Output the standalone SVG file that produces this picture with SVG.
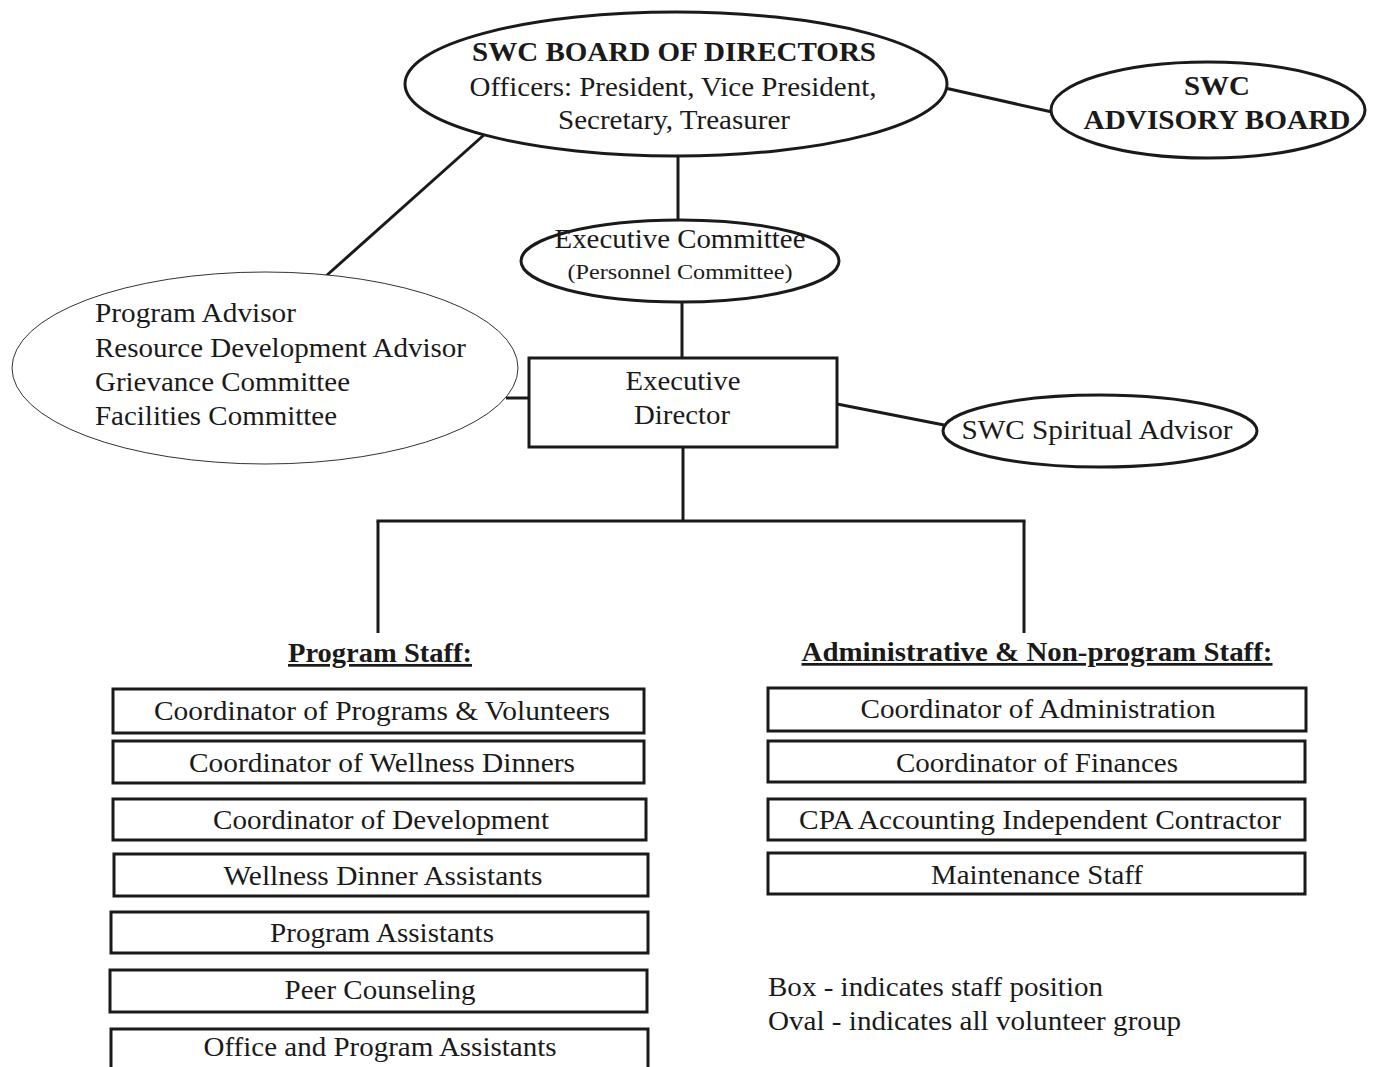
<svg xmlns="http://www.w3.org/2000/svg" width="1373" height="1067" viewBox="0 0 1373 1067">
<style>
text{font-family:"Liberation Serif","Times New Roman",serif;fill:#1a1a1a;font-size:27px}
.c{text-anchor:middle}
.b{font-weight:bold}
.u{text-decoration:underline}
.s{font-size:21px}
.node{fill:#fff;stroke:#1a1a1a;stroke-width:3}
.thin{fill:#fff;stroke:#333;stroke-width:1}
.conn line{stroke:#1a1a1a;stroke-width:3}
</style>
<rect width="1373" height="1067" fill="#fff"/>
<g class="conn">
<line x1="945" y1="88" x2="1052" y2="112"/>
<line x1="678" y1="155" x2="678" y2="221"/>
<line x1="485" y1="134" x2="326" y2="276"/>
<line x1="682" y1="302" x2="682" y2="358"/>
<line x1="506" y1="398" x2="529" y2="398"/>
<line x1="837" y1="404" x2="944" y2="425"/>
<line x1="683" y1="447" x2="683" y2="521"/>
<line x1="376.5" y1="521" x2="1025.5" y2="521"/>
<line x1="378" y1="521" x2="378" y2="633"/>
<line x1="1024" y1="521" x2="1024" y2="633"/>
</g>
<g id="board">
<ellipse class="node" cx="676" cy="84" rx="271" ry="72"/>
<text class="c b" x="674" y="61" textLength="404" lengthAdjust="spacingAndGlyphs">SWC BOARD OF DIRECTORS</text>
<text class="c" x="673" y="96" textLength="407" lengthAdjust="spacingAndGlyphs">Officers: President, Vice President,</text>
<text class="c" x="674" y="129" textLength="232" lengthAdjust="spacingAndGlyphs">Secretary, Treasurer</text>
</g>
<g id="advisory">
<ellipse class="node" cx="1208" cy="110" rx="157" ry="48"/>
<text class="c b" x="1217" y="95" textLength="66" lengthAdjust="spacingAndGlyphs">SWC</text>
<text class="c b" x="1217" y="129" textLength="267" lengthAdjust="spacingAndGlyphs">ADVISORY BOARD</text>
</g>
<g id="execcommittee">
<ellipse class="node" cx="680" cy="261" rx="159" ry="41"/>
<text class="c" x="680" y="248" textLength="251" lengthAdjust="spacingAndGlyphs">Executive Committee</text>
<text class="c s" x="680" y="279" textLength="225" lengthAdjust="spacingAndGlyphs">(Personnel Committee)</text>
</g>
<g id="volunteers">
<ellipse class="thin" cx="265" cy="368" rx="253" ry="96"/>
<text x="95" y="322" textLength="201" lengthAdjust="spacingAndGlyphs">Program Advisor</text>
<text x="95" y="357" textLength="371" lengthAdjust="spacingAndGlyphs">Resource Development Advisor</text>
<text x="95" y="391" textLength="255" lengthAdjust="spacingAndGlyphs">Grievance Committee</text>
<text x="95" y="425" textLength="242" lengthAdjust="spacingAndGlyphs">Facilities Committee</text>
</g>
<g id="execdirector">
<rect class="node" x="529" y="358" width="308" height="89"/>
<text class="c" x="683" y="390" textLength="115" lengthAdjust="spacingAndGlyphs">Executive</text>
<text class="c" x="682" y="424" textLength="96" lengthAdjust="spacingAndGlyphs">Director</text>
</g>
<g id="spiritual">
<ellipse class="node" cx="1100" cy="431" rx="157" ry="36"/>
<text class="c" x="1097" y="439" textLength="271" lengthAdjust="spacingAndGlyphs">SWC Spiritual Advisor</text>
</g>
<g id="programstaff">
<text class="c b u" x="380" y="662" textLength="184" lengthAdjust="spacingAndGlyphs">Program Staff:</text>
</g>
<g id="adminstaff">
<text class="c b u" x="1037" y="661" textLength="471" lengthAdjust="spacingAndGlyphs">Administrative &amp; Non-program Staff:</text>
</g>
<g id="p1"><rect class="node" x="113" y="689" width="531" height="44"/><text class="c" x="382" y="720" textLength="456" lengthAdjust="spacingAndGlyphs">Coordinator of Programs &amp; Volunteers</text></g>
<g id="p2"><rect class="node" x="113" y="741" width="531" height="42"/><text class="c" x="382" y="772" textLength="386" lengthAdjust="spacingAndGlyphs">Coordinator of Wellness Dinners</text></g>
<g id="p3"><rect class="node" x="113" y="799" width="533" height="41"/><text class="c" x="381" y="829" textLength="336" lengthAdjust="spacingAndGlyphs">Coordinator of Development</text></g>
<g id="p4"><rect class="node" x="114" y="854" width="534" height="42"/><text class="c" x="383" y="885" textLength="319" lengthAdjust="spacingAndGlyphs">Wellness Dinner Assistants</text></g>
<g id="p5"><rect class="node" x="111" y="912" width="537" height="41"/><text class="c" x="382" y="942" textLength="224" lengthAdjust="spacingAndGlyphs">Program Assistants</text></g>
<g id="p6"><rect class="node" x="110" y="970" width="537" height="42"/><text class="c" x="380" y="999" textLength="191" lengthAdjust="spacingAndGlyphs">Peer Counseling</text></g>
<g id="p7"><rect class="node" x="111" y="1029" width="537" height="45"/><text class="c" x="380" y="1056" textLength="353" lengthAdjust="spacingAndGlyphs">Office and Program Assistants</text></g>
<g id="a1"><rect class="node" x="768" y="688" width="538" height="43"/><text class="c" x="1038" y="718" textLength="355" lengthAdjust="spacingAndGlyphs">Coordinator of Administration</text></g>
<g id="a2"><rect class="node" x="768" y="741" width="537" height="41"/><text class="c" x="1037" y="772" textLength="282" lengthAdjust="spacingAndGlyphs">Coordinator of Finances</text></g>
<g id="a3"><rect class="node" x="768" y="799" width="537" height="41"/><text class="c" x="1040" y="829" textLength="482" lengthAdjust="spacingAndGlyphs">CPA Accounting Independent Contractor</text></g>
<g id="a4"><rect class="node" x="768" y="853" width="537" height="41"/><text class="c" x="1037" y="884" textLength="212" lengthAdjust="spacingAndGlyphs">Maintenance Staff</text></g>
<g id="legend">
<text x="768" y="996" textLength="335" lengthAdjust="spacingAndGlyphs">Box - indicates staff position</text>
<text x="768" y="1030" textLength="413" lengthAdjust="spacingAndGlyphs">Oval - indicates all volunteer group</text>
</g>
</svg>
